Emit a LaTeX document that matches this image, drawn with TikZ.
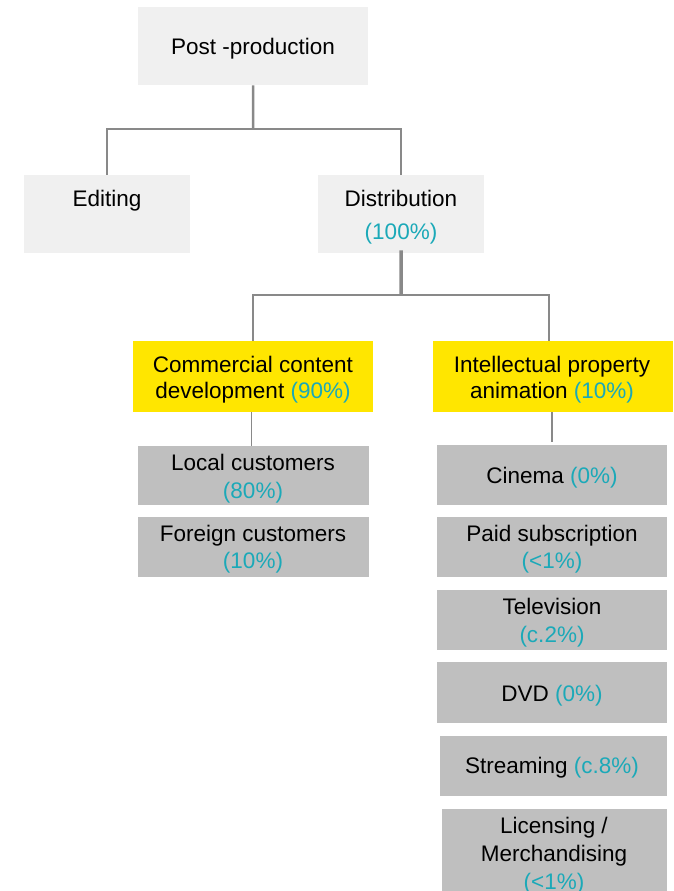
\documentclass[tikz,border=0pt]{standalone}
\usepackage{fontspec}
\setmainfont{Liberation Sans}
\definecolor{boxlight}{HTML}{F0F0F0}
\definecolor{boxyellow}{HTML}{FFE600}
\definecolor{boxgray}{HTML}{BFBFBF}
\definecolor{pctteal}{HTML}{1BA9B8}
\definecolor{linkgray}{HTML}{898989}
\newcommand\pcval[1]{\textcolor{pctteal}{#1}}
\begin{document}
\begin{tikzpicture}[x=1pt,y=-1pt,
  panel/.style={shape=rectangle, draw=none, inner sep=0pt, anchor=north west},
  light/.style={panel, fill=boxlight},
  yellowbox/.style={panel, fill=boxyellow},
  graybox/.style={panel, fill=boxgray},
  txt/.style={inner sep=0pt, anchor=base, font=\fontsize{22.5}{27}\selectfont},
  link/.style={draw=linkgray}]
\useasboundingbox (0,0) rectangle (673,891);

% boxes
\node[light, minimum width=230pt, minimum height=78pt] (post) at (138,7) {};
\node[light, minimum width=166pt, minimum height=78pt] (edit) at (24,175) {};
\node[light, minimum width=166pt, minimum height=78pt] (dist) at (318,175) {};
\node[yellowbox, minimum width=240pt, minimum height=71pt] (comm) at (133,341) {};
\node[yellowbox, minimum width=240pt, minimum height=71pt] (intel) at (433,341) {};
\node[graybox, minimum width=231pt, minimum height=59pt] (local) at (138,446) {};
\node[graybox, minimum width=231pt, minimum height=60pt] (foreign) at (138,517) {};
\node[graybox, minimum width=230pt, minimum height=60pt] (cinema) at (437,445) {};
\node[graybox, minimum width=230pt, minimum height=60pt] (paid) at (437,517) {};
\node[graybox, minimum width=230pt, minimum height=60pt] (tv) at (437,590) {};
\node[graybox, minimum width=230pt, minimum height=61pt] (dvd) at (437,662) {};
\node[graybox, minimum width=227pt, minimum height=60pt] (stream) at (440,736) {};
\node[graybox, minimum width=225pt, minimum height=95pt] (lic) at (442,809) {};

% labels
\node[txt] (post-t) at (253,55) {Post -production};
\node[txt] (edit-t) at (107,206) {Editing};
\node[txt] (dist-t1) at (401,206) {Distribution};
\node[txt] (dist-t2) at (401,239) {\pcval{(100\%)}};
\node[txt] (comm-t1) at (253,372) {Commercial content};
\node[txt] (comm-t2) at (253,398) {development \pcval{(90\%)}};
\node[txt] (intel-t1) at (552,372) {Intellectual property};
\node[txt] (intel-t2) at (552,398) {animation \pcval{(10\%)}};
\node[txt] (local-t1) at (253,470) {Local customers};
\node[txt] (local-t2) at (253,498) {\pcval{(80\%)}};
\node[txt] (foreign-t1) at (253,541) {Foreign customers};
\node[txt] (foreign-t2) at (253,568) {\pcval{(10\%)}};
\node[txt] (cinema-t) at (552,483) {Cinema \pcval{(0\%)}};
\node[txt] (paid-t1) at (552,541) {Paid subscription};
\node[txt] (paid-t2) at (552,568) {\pcval{(<1\%)}};
\node[txt] (tv-t1) at (552,614) {Television};
\node[txt] (tv-t2) at (552,642) {\pcval{(c.2\%)}};
\node[txt] (dvd-t) at (552,701) {DVD \pcval{(0\%)}};
\node[txt] (stream-t) at (552,773) {Streaming \pcval{(c.8\%)}};
\node[txt] (lic-t1) at (554,833) {Licensing /};
\node[txt] (lic-t2) at (554,861) {Merchandising};
\node[txt] (lic-t3) at (554,889) {\pcval{(<1\%)}};

% connectors
\coordinate (j1) at (253,129);
\coordinate (j2) at (401,295);
\draw[link, line width=2.5pt] (post.south) -- (j1);
\draw[link, line width=2pt] (j1) -| (edit.north);
\draw[link, line width=2pt] (j1) -| (dist.north);
\draw[link, line width=3.5pt] ([yshift=3pt]dist.south) -- (j2);
\draw[link, line width=2.5pt] (j2) -| (comm.north);
\draw[link, line width=2.5pt] (j2) -| ([xshift=-4pt]intel.north);
\draw[link, line width=1.3pt] ([xshift=-2pt]comm.south) -- ([xshift=-2pt]comm.south |- local.north);
\draw[link, line width=1.5pt] ([xshift=-1pt]intel.south) -- ([xshift=-1pt,yshift=3pt]intel.south |- cinema.north);
\end{tikzpicture}
\end{document}
